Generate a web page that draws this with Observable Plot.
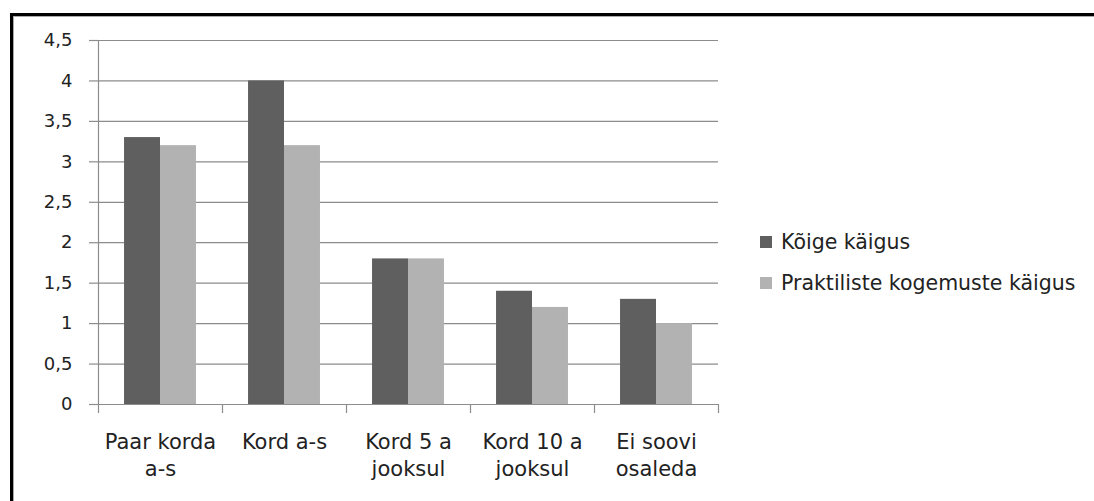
<!DOCTYPE html>
<html>
<head>
<meta charset="utf-8">
<script src="https://cdn.jsdelivr.net/npm/d3@7"></script>
<script src="https://cdn.jsdelivr.net/npm/@observablehq/plot@0.6"></script>
<style>
  html, body { margin: 0; padding: 0; background: #fff; }
  body { width: 1094px; height: 501px; position: relative; overflow: hidden;
         font-family: "DejaVu Sans", sans-serif; color: #222; }
  #frame { position: absolute; left: 10px; top: 13px; right: -10px; bottom: -10px;
           border-left: 3px solid #000; border-top: 3px solid #000; }
  #frame-inner { position: absolute; left: 0; top: 0; right: 0; bottom: 0;
                 border-left: 1px solid #aaa; border-top: 1px solid #aaa; }
  #chart { position: absolute; left: 0; top: 0; }
  #legend { position: absolute; left: 760px; top: 229px; font-size: 20.5px; }
  .item { display: flex; align-items: center; height: 26px; margin-bottom: 15px; white-space: nowrap; }
  .sw { width: 12px; height: 12px; margin-right: 9px; flex: none; }
</style>
</head>
<body>
<div id="frame"><div id="frame-inner"></div></div>
<div id="chart"></div>
<div id="legend"></div>
<script>
// Survey categories (x axis, two-line labels)
const categories = [
  "Paar korda\na-s",
  "Kord a-s",
  "Kord 5 a\njooksul",
  "Kord 10 a\njooksul",
  "Ei soovi\nosaleda"
];
const seriesNames = ["Kõige käigus", "Praktiliste kogemuste käigus"];
const koigeKaigus = [3.3, 4.0, 1.8, 1.4, 1.3];
const praktilisteKaigus = [3.2, 3.2, 1.8, 1.2, 1.0];
const yTicks = [0, 0.5, 1, 1.5, 2, 2.5, 3, 3.5, 4, 4.5];
const colors = ["#5f5f5f", "#b2b2b2"];

// Long table: one row per bar, with the category index and the series slot
const rows = [];
categories.forEach((c, i) => {
  rows.push({i, slot: 0, series: seriesNames[0], value: koigeKaigus[i]});
  rows.push({i, slot: 1, series: seriesNames[1], value: praktilisteKaigus[i]});
});

// Each bar takes this share of a category band; the pair sits centred in it
const barShare = 0.29;
const boundaries = d3.range(categories.length + 1).map(k => k - 0.5);
const fmt = d => String(d).replace(".", ",");
const axisColor = "#8c8c8c";

const chart = Plot.plot({
  width: 740,
  height: 501,
  marginTop: 40,
  marginBottom: 97,
  marginLeft: 98,
  marginRight: 22,
  style: {fontFamily: "DejaVu Sans, sans-serif", fontSize: "18px", color: "#222", background: "transparent"},
  x: {type: "linear", domain: [-0.5, categories.length - 0.5]},
  y: {domain: [0, 4.5]},
  color: {domain: seriesNames, range: colors},
  marks: [
    Plot.ruleY(yTicks, {stroke: axisColor, strokeWidth: 1.2}),
    Plot.ruleX([-0.5], {y1: 0, y2: 4.5, stroke: axisColor, strokeWidth: 1.2}),
    Plot.rectY(rows, {
      x1: d => d.i - barShare + d.slot * barShare,
      x2: d => d.i + d.slot * barShare,
      y1: 0,
      y2: "value",
      fill: "series"
    }),
    Plot.axisY({ticks: yTicks, tickFormat: fmt, tickSize: 9, tickPadding: 17, fontSize: 18,
                stroke: axisColor, strokeWidth: 1.2, strokeOpacity: 1, fill: "#222", label: null}),
    Plot.axisX({ticks: boundaries, tickFormat: () => "", tickSize: 9,
                stroke: axisColor, strokeWidth: 1.2, strokeOpacity: 1, label: null}),
    Plot.text(categories, {x: (d, i) => i, y: 0, text: d => d, lineAnchor: "top",
                           dy: 25, lineHeight: 1.3, fontSize: 21, fill: "#222"})
  ]
});
document.getElementById("chart").append(chart);

// Legend at the right
const legend = document.getElementById("legend");
seriesNames.forEach((name, k) => {
  const item = document.createElement("div");
  item.className = "item";
  const sw = document.createElement("span");
  sw.className = "sw";
  sw.style.background = colors[k];
  const label = document.createElement("span");
  label.textContent = name;
  item.append(sw, label);
  legend.append(item);
});
</script>
</body>
</html>
